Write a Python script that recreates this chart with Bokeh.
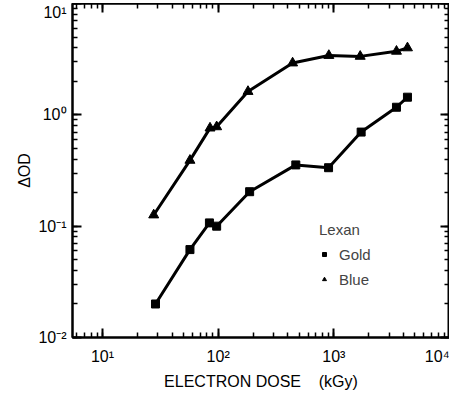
from bokeh.plotting import figure
from bokeh.models import (LogAxis, Range1d, CustomJSTickFormatter, LogTicker,
                          Legend, LegendItem, Label, Spacer)
from bokeh.layouts import row, column
from bokeh.embed import file_html
from bokeh.resources import INLINE

# Data
gold_dose = [28.7, 57, 84, 97, 187, 469, 900, 1722, 3480, 4330]
gold_aod = [0.020, 0.0616, 0.107, 0.100, 0.204, 0.355, 0.335, 0.70, 1.17, 1.44]
blue_dose = [27.7, 57, 85, 97, 181, 440, 905, 1690, 3480, 4330]
blue_aod = [0.126, 0.39, 0.76, 0.78, 1.62, 2.92, 3.41, 3.35, 3.72, 3.99]

x_label = "ELECTRON DOSE\u00a0\u00a0\u00a0\u00a0(kGy)"
y_label = "\u0394OD"
legend_title = "Lexan"
series_names = ["Gold", "Blue"]

FONT = "Liberation Sans"

p = figure(frame_width=377, frame_height=334, x_axis_type="log", y_axis_type="log",
           x_range=Range1d(5.5, 10000), y_range=Range1d(0.01, 10),
           output_backend="svg", toolbar_location=None, min_border=0)
p.outline_line_color = "black"
p.outline_line_width = 2
p.xgrid.grid_line_color = None
p.ygrid.grid_line_color = None

sup_code = """
const sup = {"0":"\u2070","1":"\u00b9","2":"\u00b2","3":"\u00b3","4":"\u2074","5":"\u2075","6":"\u2076","7":"\u2077","8":"\u2078","9":"\u2079","-":"\u207b"};
const e = Math.round(Math.log10(tick));
return "10" + String(e).split("").map(c => sup[c]).join("");
"""

def style_axis(ax, labels=True):
    ax.axis_line_color = "black"
    ax.axis_line_width = 2
    ax.major_tick_in = 9
    ax.major_tick_out = 0
    ax.minor_tick_in = 5
    ax.minor_tick_out = 0
    ax.major_tick_line_color = "black"
    ax.major_tick_line_width = 2
    ax.minor_tick_line_color = "black"
    ax.minor_tick_line_width = 1.5
    ax.ticker = LogTicker(num_minor_ticks=10)
    if labels:
        ax.formatter = CustomJSTickFormatter(code=sup_code)
        ax.major_label_text_font = FONT
        ax.major_label_text_font_size = "16px"
        ax.major_label_text_color = "black"
    else:
        ax.formatter = CustomJSTickFormatter(code="return ' '")
        ax.major_label_standoff = 0
        ax.major_label_text_font_size = "1px"
        ax.major_label_text_alpha = 0

for ax in p.xaxis + p.yaxis:
    style_axis(ax)
    ax.axis_label_text_font = FONT
    ax.axis_label_text_font_size = "16px"
    ax.axis_label_text_font_style = "normal"
    ax.axis_label_text_color = "black"

p.xaxis.axis_label = x_label
p.xaxis.major_label_standoff = 10
p.xaxis.axis_label_standoff = 5
p.yaxis.axis_label = y_label
p.yaxis.major_label_standoff = 6
p.yaxis.axis_label_standoff = 2

top = LogAxis()
style_axis(top, labels=False)
right = LogAxis()
style_axis(right, labels=False)
p.add_layout(top, "above")
p.add_layout(right, "right")

p.line(gold_dose, gold_aod, line_color="black", line_width=3)
p.line(blue_dose, blue_aod, line_color="black", line_width=3)
r_gold = p.scatter(gold_dose, gold_aod, marker="square", size=8,
                   fill_color="black", line_color="black")
r_blue = p.scatter(blue_dose, blue_aod, marker="triangle", size=10,
                   fill_color="black", line_color="black")

legend = Legend(items=[LegendItem(label=series_names[0], renderers=[r_gold]),
                       LegendItem(label=series_names[1], renderers=[r_blue])],
                title=legend_title, location=(247, 47),
                border_line_color=None, background_fill_alpha=0,
                padding=0, margin=0, spacing=3,
                glyph_width=10, glyph_height=22, label_height=22,
                label_standoff=10, title_standoff=5,
                label_text_font=FONT, label_text_font_size="15px",
                title_text_font=FONT, title_text_font_size="15px",
                title_text_font_style="normal")
p.add_layout(legend, "center")

p.add_layout(Label(x=-61, y=-43, x_units="screen", y_units="screen",
                   text="10\u00b791", text_font=FONT, text_font_size="6px"))
p.add_layout(Label(x=355, y=-50, x_units="screen", y_units="screen",
                   text="707584", text_font=FONT, text_font_size="6px"))

lay = column(Spacer(height=3), row(Spacer(width=13), p))
open("out.html", "w").write(file_html(lay, INLINE))
